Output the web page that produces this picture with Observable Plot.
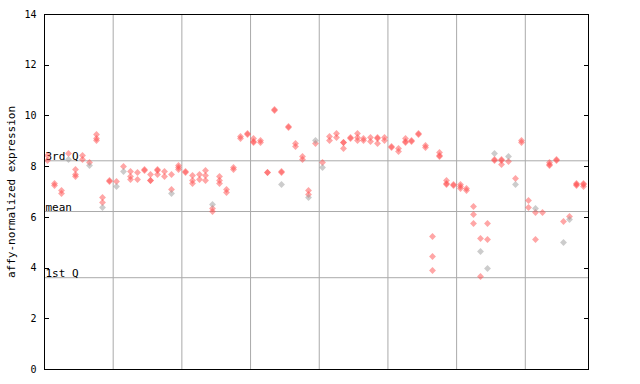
<!DOCTYPE html>
<html><head><meta charset="utf-8">
<script src="https://cdn.jsdelivr.net/npm/d3@7"></script>
<script src="https://cdn.jsdelivr.net/npm/@observablehq/plot@0.6"></script>
<style>body{margin:0;background:#fff}</style>
</head><body><div id="chart"></div>
<script>
// red expression values per sample (sample 1..79)
const redValues = [
  [8.45,8.25],[7.35,7.25],[7.05,6.95],[8.5],[7.9,7.7,7.6],[8.45,8.3],[8.15],[9.25,9.1,9.05],[6.8,6.6],[7.45,7.4],
  [7.4],[8.0],[7.8,7.6,7.5],[7.75,7.5],[7.9,7.85],[7.7,7.45,7.45],[7.9,7.85,7.7],[7.8,7.6],[7.7,7.1],[8.05,7.95,7.9],
  [7.8,7.75],[7.65,7.45,7.35],[7.7,7.5],[7.85,7.65,7.45],[6.35,6.25],[7.6,7.45,7.35],[7.1,7.0],[7.95,7.9],[9.2,9.1],[9.3,9.25],
  [9.1,9.0,8.95],[9.05,8.95],[7.78,7.75],[10.25,10.2],[7.8,7.75],[9.6,9.55],[8.9,8.8],[8.4,8.3],[7.05,6.9],[8.9],
  [8.15],[9.2,9.05],[9.3,9.15],[8.95,8.95,8.7],[9.15,9.1],[9.3,9.15,9.05],[9.1,9.05],[9.15,9.0],[9.15,9.1,8.9],[9.15,9.05],
  [8.8,8.75],[8.7,8.6],[9.1,9.0,8.95],[9.05,9.0],[9.3,9.25],[8.85,8.75],[5.25,4.45,3.9],[8.55,8.45,8.4],[7.45,7.35,7.3],[7.3,7.25],
  [7.3,7.2,7.15],[7.15,7.05],[6.43,6.1,5.77],[5.15,3.67],[5.75,5.12],[8.3,8.25],[8.3,8.25,8.1],[8.2],[7.55],[9.05,8.95],
  [6.65,6.4],[6.2,5.12],[6.2],[8.15,8.1,8.05],[8.3,8.25],[5.85],[6.05],[7.35,7.3,7.25],[7.35,7.3,7.2]
];
// grey points
const greySamples = [4,7,9,11,12,19,25,35,39,40,41,64,65,66,68,69,72,76,77];
const greyValues  = [8.3,8.05,6.4,7.2,7.8,6.95,6.5,7.3,6.8,9.05,7.95,4.65,3.98,8.5,8.4,7.3,6.35,5.0,5.9];
const quantileLabels = ["3rd Q","mean","1st Q"];
const quantileValues = [8.23, 6.23, 3.62];
const groupBreaks = [10.5,20.5,30.5,40.5,50.5,60.5,70.5];
const yTicks = [0,2,4,6,8,10,12,14];
const yLabel = "affy-normalized expression";

const red = redValues.flatMap((vals, i) => vals.map((v, j) => ({sample: i + 1, value: v, p: j % 2})));
const grey = greySamples.map((s, i) => ({sample: s, value: greyValues[i], p: i % 2}));
const quant = quantileLabels.map((t, i) => ({label: t, value: quantileValues[i]}));

const svg = Plot.plot({
  width: 640, height: 384,
  marginLeft: 44, marginRight: 52, marginTop: 14, marginBottom: 15,
  style: {fontFamily: "'DejaVu Sans Mono', monospace", fontSize: "10px", background: "#fff", color: "#000"},
  x: {domain: [0.5, 79.7], axis: null},
  y: {domain: [0, 14]},
  marks: [
    Plot.ruleX(groupBreaks, {stroke: "#aaa", strokeWidth: 1}),
    Plot.ruleY(quant, {y: "value", stroke: "#aaa", strokeWidth: 1}),
    Plot.text(quant, {y: "value", text: "label", frameAnchor: "left", textAnchor: "start", lineAnchor: "bottom", dx: 1, dy: -1, fontSize: 11, fill: "#000"}),
    Plot.dot(red.filter(d => d.p === 0), {x: "sample", y: "value", symbol: "diamond2", r: 3.1, fill: "url(#chkA)", stroke: "none"}),
    Plot.dot(red.filter(d => d.p === 1), {x: "sample", y: "value", symbol: "diamond2", r: 3.1, fill: "url(#chkB)", stroke: "none"}),
    Plot.dot(grey, {x: "sample", y: "value", symbol: "diamond2", r: 3.1, fill: "url(#chkG)", stroke: "none"}),
    Plot.frame({stroke: "#000", strokeWidth: 1}),
    Plot.axisY(yTicks, {anchor: "left", tickSize: -5, tickPadding: 13, label: null, fontSize: 10}),
    Plot.axisY(yTicks, {anchor: "right", tickSize: -5, tickFormat: () => "", label: null}),
    Plot.text([yLabel], {text: d => d, frameAnchor: "left", textAnchor: "middle", rotate: -90, dx: -33, fontSize: 11, fill: "#000"})
  ]
});

const ns = "http://www.w3.org/2000/svg";
const defs = document.createElementNS(ns, "defs");
const pat = (id, c, o) => `<pattern id="${id}" width="2" height="2" patternUnits="userSpaceOnUse"><rect x="${o}" y="0" width="1" height="1" fill="${c}"/><rect x="${1-o}" y="1" width="1" height="1" fill="${c}"/></pattern>`;
defs.innerHTML = pat("chkA", "#ff4d4d", 0) + pat("chkB", "#ff4d4d", 1) + pat("chkG", "#999999", 0);
svg.insertBefore(defs, svg.firstChild);
// snap dot centers to the pixel grid so the checker pattern stays crisp
svg.querySelectorAll("path[transform]").forEach(p => {
  const m = /translate\(([-\d.]+),\s*([-\d.]+)\)/.exec(p.getAttribute("transform"));
  if (m) p.setAttribute("transform", `translate(${Math.round(+m[1])},${Math.round(+m[2])})`);
});
document.getElementById("chart").appendChild(svg);
</script>
</body></html>
